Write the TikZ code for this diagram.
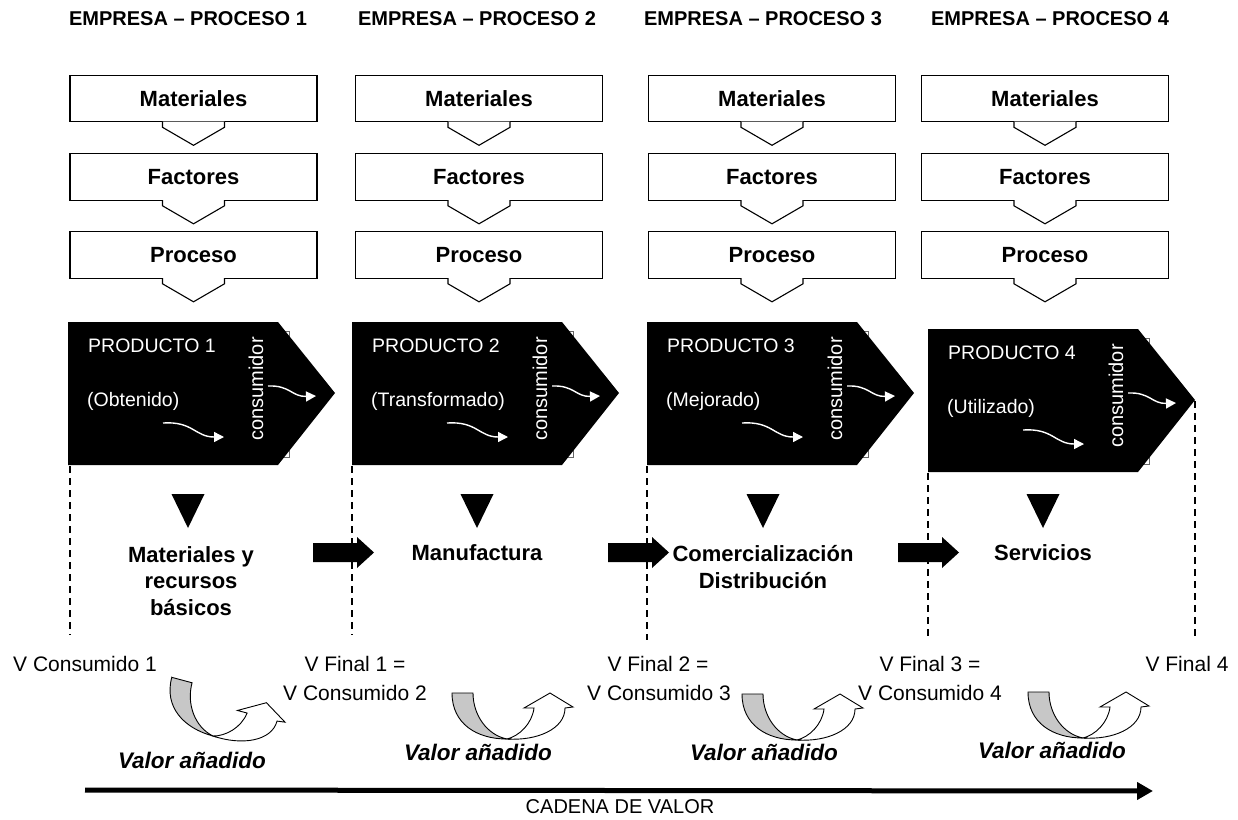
\documentclass[tikz,border=0pt]{standalone}
\usepackage{fontspec}
\setmainfont{Liberation Sans}
\usetikzlibrary{arrows.meta,calc}

% curved "added value" ribbon, drawn around its lowest point
\newcommand\vacurl{%
  \filldraw[ribbonback] (-55,-46) -- (-34,-46)
    .. controls (-34,-24) and (-20,-4) .. (0,0)
    .. controls (-30,0) and (-55,-15) .. cycle;
  \filldraw[ribbonfront] (0,0) .. controls (30,2) and (58,-10) .. (58,-31)
    -- (66,-32) -- (43,-46) -- (17,-31) -- (27,-31)
    .. controls (25,-15) and (12,-3) .. cycle;
}

\begin{document}
\begin{tikzpicture}[x=1pt,y=-1pt,
  hdr/.style={font=\fontsize{20}{24}\selectfont\bfseries, anchor=base, inner sep=0pt},
  stepbox/.style={draw, line width=1.1pt, minimum width=247pt, minimum height=46.5pt,
    inner sep=0pt, font=\fontsize{22}{26}\selectfont\bfseries},
  chev/.style={fill=white, draw, line width=1.1pt},
  ptxt/.style={text=white, font=\fontsize{19.5}{23}\selectfont, anchor=base west, inner sep=0pt},
  cons/.style={text=white, font=\fontsize{20}{24}\selectfont, rotate=90, inner sep=0pt},
  wcurl/.style={white, line width=1.4pt, -{Triangle[length=10pt,width=10pt]}},
  guide/.style={line width=1.2pt, dash pattern=on 7pt off 5pt},
  sect/.style={font=\fontsize{22}{26.5}\selectfont\bfseries, align=center, inner sep=0pt},
  vlab/.style={font=\fontsize{21}{29}\selectfont, anchor=base, inner sep=0pt},
  vadd/.style={font=\fontsize{22.5}{26}\selectfont\bfseries\itshape, anchor=base, inner sep=0pt},
  ribbonback/.style={fill=black!22, draw=black, line width=0.9pt},
  ribbonfront/.style={fill=white, draw=black, line width=0.9pt}
]
\useasboundingbox (0,0) rectangle (1238,819);

% column headings
\foreach \i/\cx in {1/188, 2/477, 3/763, 4/1050}
  \node[hdr] (h\i) at (\cx,25) {EMPRESA -- PROCESO \i};

% stacked input boxes with their down chevrons
\foreach \i/\cx in {1/193.5, 2/479, 3/772, 4/1045} {
  \node[stepbox] (m\i) at (\cx,98.5) {Materiales};
  \node[stepbox] (f\i) at (\cx,177) {Factores};
  \node[stepbox] (p\i) at (\cx,255) {Proceso};
  \foreach \b in {m\i, f\i, p\i}
    \draw[chev] ([xshift=-31pt,yshift=0.6pt]\b.south) -- ++(0,5.6) -- ++(31,18)
      -- ++(31,-18) -- ++(0,-5.6);
}

% product pentagons
\foreach \i/\L/\T/\st in {1/68/322/Obtenido, 2/352/322/Transformado,
                          3/647/322/Mejorado, 4/928/329/Utilizado} {
  \draw[black!60, line width=0.6pt] ({\L},{\T+9}) rectangle ({\L+221},{\T+135});
  \fill[black] ({\L},{\T}) -- ({\L+210},{\T}) -- ({\L+267},{\T+71})
    -- ({\L+210},{\T+143}) -- ({\L},{\T+143}) -- cycle;
  \node[ptxt] (pr\i) at ({\L+20},{\T+30}) {PRODUCTO \i};
  \node[ptxt] (st\i) at ({\L+19},{\T+84}) {(\st)};
  \node[cons] (cs\i) at ({\L+188},{\T+67}) {consumidor};
  \draw[wcurl] ({\L+95},{\T+101}) .. controls ({\L+125},{\T+99}) and ({\L+127},{\T+115}) .. ({\L+156},{\T+115});
  \draw[wcurl] ({\L+200},{\T+64}) .. controls ({\L+222},{\T+63}) and ({\L+224},{\T+75}) .. ({\L+248},{\T+74});
}

% dashed guides
\draw[guide] (70,466) -- (70,635);
\draw[guide] (352,466) -- (352,635);
\draw[guide] (647,466) -- (647,640);
\draw[guide] (928,473) -- (928,640);
\draw[guide] (1195,401) -- (1195,640);

% down triangles
\foreach \cx in {188, 477, 763, 1043}
  \fill[black] ({\cx-16.5},494) -- ({\cx+16.5},494) -- ({\cx},528) -- cycle;

% sector labels
\node[sect] (s1) at (191,581) {Materiales y\\recursos\\básicos};
\node[sect] (s2) at (477,553) {Manufactura};
\node[sect] (s3) at (763,567) {Comercialización\\Distribución};
\node[sect] (s4) at (1043,553) {Servicios};

% block arrows between sectors
\foreach \x in {313, 608, 898}
  \fill[black] ({\x},543) -- ({\x+44},543) -- ({\x+44},537) -- ({\x+61},552.5)
    -- ({\x+44},568) -- ({\x+44},562) -- ({\x},562) -- cycle;

% value labels
\node[vlab] (vc1) at (85,671) {V Consumido 1};
\node[vlab] (vf1) at (355,671) {V Final 1 =};
\node[vlab] (vc2) at (355,700) {V Consumido 2};
\node[vlab] (vf2) at (658,671) {V Final 2 =};
\node[vlab] (vc3) at (659,700) {V Consumido 3};
\node[vlab] (vf3) at (930,671) {V Final 3 =};
\node[vlab] (vc4) at (930,700) {V Consumido 4};
\node[vlab] (vf4) at (1187,671) {V Final 4};

% added value ribbons
\begin{scope}[shift={(213,736)}, rotate=-15]\vacurl\end{scope}
\begin{scope}[shift={(507,739)}]\vacurl\end{scope}
\begin{scope}[shift={(797,740)}]\vacurl\end{scope}
\begin{scope}[shift={(1083,738)}]\vacurl\end{scope}

\node[vadd] (va1) at (192,768) {Valor añadido};
\node[vadd] (va2) at (478,760) {Valor añadido};
\node[vadd] (va3) at (764,760) {Valor añadido};
\node[vadd] (va4) at (1052,758) {Valor añadido};

% value chain arrow
\coordinate (chainA) at (85,790);
\coordinate (chainB) at (1153,791);
\draw[line width=5pt, -{Triangle[length=16pt,width=17pt]}] (chainA) -- (chainB);
\node[font=\fontsize{20}{24}\selectfont, anchor=base, inner sep=0pt] (cv) at (620,813) {CADENA DE VALOR};
\end{tikzpicture}
\end{document}
